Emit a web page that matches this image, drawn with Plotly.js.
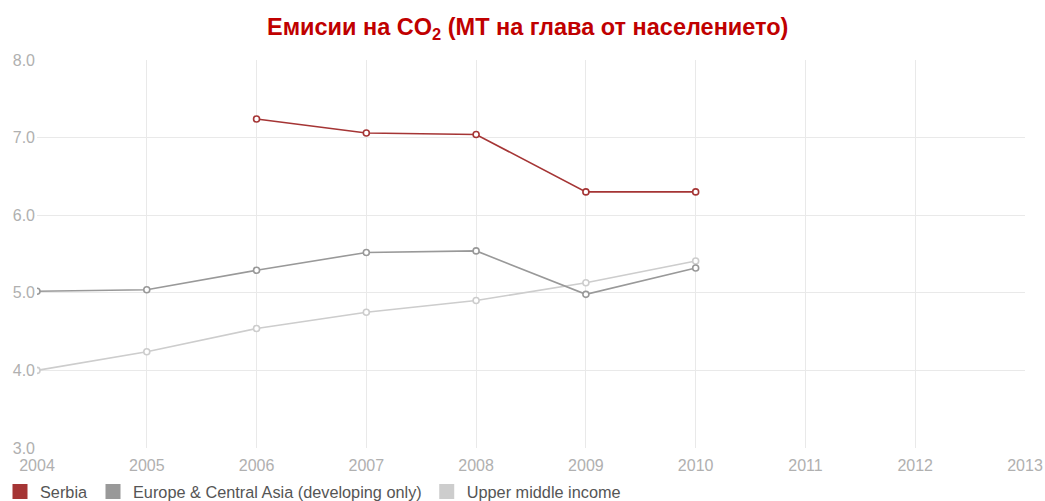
<!DOCTYPE html>
<html>
<head>
<meta charset="utf-8">
<script src="https://cdn.plot.ly/plotly-3.0.1.min.js"></script>
<style>html,body{margin:0;padding:0;background:#fff;}#chart{width:1045px;height:501px;}</style>
</head>
<body>
<div id="chart"></div>
<script>
const years = [2004, 2005, 2006, 2007, 2008, 2009, 2010];
const serbia = [null, null, 7.24, 7.06, 7.04, 6.30, 6.30];
const europeCentralAsia = [5.02, 5.04, 5.29, 5.52, 5.54, 4.98, 5.32];
const upperMiddleIncome = [4.00, 4.24, 4.54, 4.75, 4.90, 5.13, 5.41];
const seriesNames = ['Serbia', 'Europe & Central Asia (developing only)', 'Upper middle income'];
const xTicks = [2004, 2005, 2006, 2007, 2008, 2009, 2010, 2011, 2012, 2013];
const yTicks = [3, 4, 5, 6, 7, 8];
const yTickLabels = ['3.0', '4.0', '5.0', '6.0', '7.0', '8.0'];

const colors = ['#a53535', '#999999', '#cdcdcd'];
const values = [serbia, europeCentralAsia, upperMiddleIncome];

const traces = [];
[2, 1, 0].forEach(i => {
  traces.push({
    x: years, y: values[i], type: 'scatter', mode: 'lines+markers',
    name: seriesNames[i], showlegend: false,
    line: {color: colors[i], width: 1.6},
    marker: {symbol: 'circle', size: 6, color: '#ffffff', line: {color: colors[i], width: 1.6}},
    connectgaps: false
  });
});
[0, 1, 2].forEach(i => {
  traces.push({
    x: [null], y: [null], type: 'scatter', mode: 'markers',
    name: seriesNames[i], showlegend: true,
    marker: {symbol: 'square', size: 15, color: colors[i]}
  });
});

const layout = {
  width: 1045, height: 501,
  margin: {l: 37, r: 20, t: 60, b: 53},
  paper_bgcolor: '#ffffff', plot_bgcolor: '#ffffff',
  font: {family: 'Liberation Sans, Arial, sans-serif', size: 16, color: '#b0b0b0'},
  title: {
    text: '<b>Емисии на CO<sub>2</sub> (МТ на глава от населението)</b>',
    font: {family: 'Liberation Sans, Arial, sans-serif', size: 23.5, color: '#c00000'},
    x: 0.505, xanchor: 'center', y: 0.946, yanchor: 'middle'
  },
  xaxis: {
    range: [2004, 2013], tickvals: xTicks, ticktext: xTicks.map(String),
    showgrid: true, gridcolor: '#e9e9e9', gridwidth: 1, zeroline: false,
    showline: false, ticks: '', ticklabelstandoff: 6,
    tickfont: {size: 16, color: '#b0b0b0'}, automargin: false, fixedrange: true
  },
  yaxis: {
    range: [3, 8], tickvals: yTicks, ticktext: yTickLabels,
    showgrid: true, gridcolor: '#e9e9e9', gridwidth: 1, zeroline: false,
    showline: false, ticks: '', ticklabelstandoff: 1,
    tickfont: {size: 16, color: '#b0b0b0'}, automargin: false, fixedrange: true
  },
  showlegend: true,
  legend: {
    orientation: 'h', xref: 'container', x: -0.013, xanchor: 'left',
    yref: 'container', y: 0.018, yanchor: 'middle',
    font: {size: 16.3, color: '#555555'}, itemwidth: 30, tracegroupgap: 0,
    bgcolor: 'rgba(0,0,0,0)'
  }
};

Plotly.newPlot('chart', traces, layout, {displayModeBar: false, staticPlot: true});
</script>
</body>
</html>
